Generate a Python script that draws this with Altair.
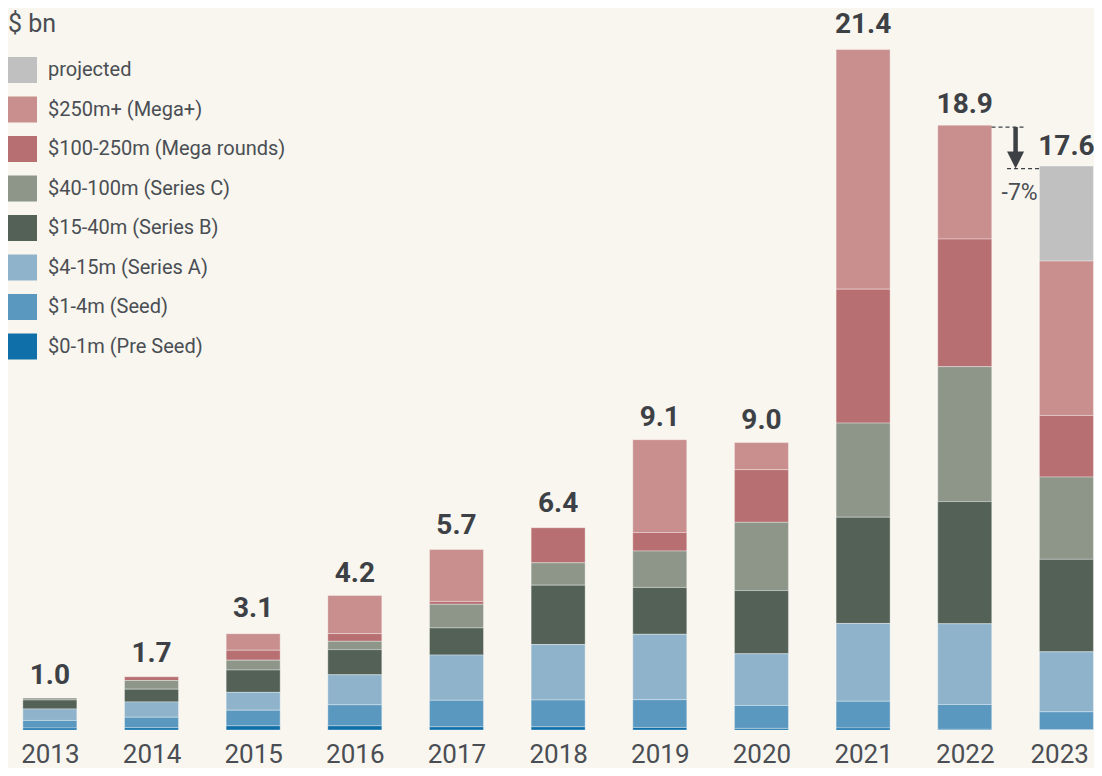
import altair as alt
import pandas as pd

# ---------------- data ----------------
years = list(range(2013, 2024))

pre_seed = [0.06, 0.07, 0.13, 0.13, 0.10, 0.10, 0.08, 0.05, 0.06, 0.02, 0.01]
seed     = [0.24, 0.33, 0.49, 0.66, 0.83, 0.84, 0.87, 0.72, 0.84, 0.78, 0.56]
series_a = [0.36, 0.48, 0.56, 0.94, 1.42, 1.74, 2.05, 1.62, 2.44, 2.53, 1.88]
series_b = [0.28, 0.40, 0.70, 0.79, 0.85, 1.86, 1.47, 1.98, 3.33, 3.83, 2.90]
series_c = [0.06, 0.27, 0.31, 0.26, 0.74, 0.70, 1.14, 2.14, 2.95, 4.23, 2.58]
mega     = [0.00, 0.12, 0.31, 0.24, 0.09, 1.10, 0.58, 1.65, 4.20, 4.00, 1.93]
mega_plus = [0.00, 0.00, 0.52, 1.20, 1.63, 0.00, 2.91, 0.85, 7.51, 3.57, 4.84]
projected = [0, 0, 0, 0, 0, 0, 0, 0, 0, 0, 2.98]

totals = [1.0, 1.7, 3.1, 4.2, 5.7, 6.4, 9.1, 9.0, 21.4, 18.9, 17.6]

categories = [
    "projected",
    "$250m+ (Mega+)",
    "$100-250m (Mega rounds)",
    "$40-100m (Series C)",
    "$15-40m (Series B)",
    "$4-15m (Series A)",
    "$1-4m (Seed)",
    "$0-1m (Pre Seed)",
]
colors = ["#c0c0c0", "#c98f8e", "#b86f71", "#8e968a", "#536156",
          "#8eb3cb", "#5b98bf", "#0f6fa8"]
series = [projected, mega_plus, mega, series_c, series_b, series_a, seed, pre_seed]

change_label = "-7%"
unit_label = "$ bn"

# ---------------- tables ----------------
rows = []
for ci, (cat, vals) in enumerate(zip(categories, series)):
    for y, v in zip(years, vals):
        if v > 0:
            rows.append({"year": y, "cat": cat, "value": v,
                         "order": len(categories) - ci})
bars_df = pd.DataFrame(rows)
tot_df = pd.DataFrame({"year": years, "total": totals,
                       "label": [f"{t:.1f}" for t in totals]})

half = 27 / 102.6  # half bar width in year units
dash_df = pd.DataFrame({
    "x": [2022 + half, 2022.416],
    "x2": [2022.595, 2023 - half],
    "y": [totals[9], totals[10]],
})
shaft_df = pd.DataFrame({"x": [2022.5], "y": [totals[9]], "y2": [18.1]})
head_df = pd.DataFrame({"x": [2022.5], "y": [totals[10]]})
pct_df = pd.DataFrame({"x": [2022.54], "y": [totals[10]], "t": [change_label]})

FONT = "Roboto"
TXT = "#4a4e54"
DARK = "#3d4146"

xscale = alt.Scale(domain=[2012.6374, 2023.2222], nice=False, zero=False)
yscale = alt.Scale(domain=[-1.191, 22.633], nice=False, zero=False)

x_enc = alt.X("year:Q", scale=xscale,
              axis=alt.Axis(values=years, format="d", title=None, domain=False,
                            ticks=False, grid=False, labelFontSize=26,
                            labelFont=FONT, labelColor=TXT, offset=-38,
                            labelPadding=32, labelBaseline="alphabetic",
                            labelFlush=30, labelFlushOffset=22))

bars = alt.Chart(bars_df).mark_bar(size=54, stroke="white", strokeWidth=1,
                                   strokeOpacity=0.35).encode(
    x=x_enc,
    y=alt.Y("value:Q", stack="zero", scale=yscale, axis=None),
    color=alt.Color("cat:N", scale=alt.Scale(domain=categories, range=colors),
                    legend=alt.Legend(orient="none", legendX=-5, legendY=45,
                                      title=None,
                                      symbolType="M-1,-0.765L1,-0.765L1,0.765L-1,0.765Z",
                                      symbolSize=1156, symbolStrokeWidth=0,
                                      symbolOpacity=1,
                                      labelFontSize=20, labelFont=FONT,
                                      labelColor=TXT, labelOffset=11,
                                      rowPadding=8.5, labelLimit=400)),
    order=alt.Order("order:Q", sort="ascending"),
)

labels = alt.Chart(tot_df).mark_text(font=FONT, fontSize=28, fontWeight="bold",
                                     color=DARK, baseline="alphabetic",
                                     dy=-14).encode(
    x=alt.X("year:Q", scale=xscale),
    y=alt.Y("total:Q", scale=yscale),
    text="label:N",
)

dashes = alt.Chart(dash_df).mark_rule(color=DARK, strokeWidth=1.2,
                                      strokeDash=[4, 3]).encode(
    x=alt.X("x:Q", scale=xscale), x2="x2:Q",
    y=alt.Y("y:Q", scale=yscale),
)

shaft = alt.Chart(shaft_df).mark_rule(color=DARK, strokeWidth=4.5).encode(
    x=alt.X("x:Q", scale=xscale),
    y=alt.Y("y:Q", scale=yscale), y2="y2:Q",
)

head = alt.Chart(head_df).mark_point(shape="M-1,-2L1,-2L0,0Z", size=289,
                                     filled=True, color=DARK, opacity=1,
                                     strokeWidth=0).encode(
    x=alt.X("x:Q", scale=xscale),
    y=alt.Y("y:Q", scale=yscale),
)

pct = alt.Chart(pct_df).mark_text(font=FONT, fontSize=23, color=TXT,
                                  baseline="alphabetic", dy=31).encode(
    x=alt.X("x:Q", scale=xscale),
    y=alt.Y("y:Q", scale=yscale),
    text="t:N",
)

unit = alt.Chart(pd.DataFrame({"t": [unit_label]})).mark_text(
    font=FONT, fontSize=25, color=TXT, align="left", baseline="alphabetic"
).encode(x=alt.value(0), y=alt.value(24), text="t:N")

chart = alt.layer(bars, labels, dashes, shaft, head, pct, unit).properties(
    width=1086, height=760,
    autosize=alt.AutoSizeParams(type="none"),
    padding=0,
    background="#f8f6ee",
).configure_view(stroke=None)

chart.save("out.html", embed_options={"renderer": "svg", "actions": False})
